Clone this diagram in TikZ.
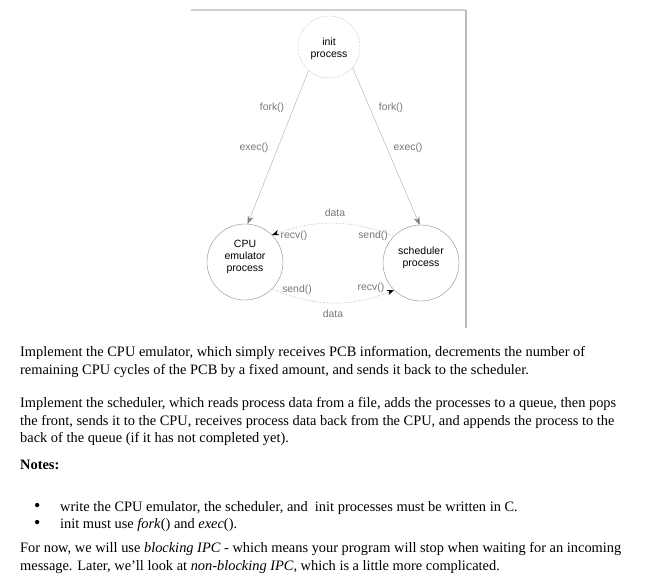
\documentclass[tikz,border=0pt]{standalone}
\usepackage{fontspec}
\setmainfont{Liberation Serif}
\newfontfamily\arialfont{Liberation Sans}
\usetikzlibrary{arrows.meta}

\definecolor{labelgray}{HTML}{777777}
\definecolor{linegray}{HTML}{AAAAAA}
\definecolor{framegray}{HTML}{D0D0D0}
\definecolor{dotgray}{HTML}{888888}

% process name, raised inside its circle
\newcommand{\proclines}[2]{\raisebox{#1}[\height][\depth]{\begin{tabular}{@{}c@{}}#2\end{tabular}}}

\begin{document}
\begin{tikzpicture}[x=1pt, y=-1pt,
            process/.style={circle, draw=gray!90, thin, minimum size=76pt, inner sep=0pt, font=\arialfont\fontsize{10.5}{12}\selectfont},
            initnode/.style={process, draw=dotgray, densely dotted, minimum size=62pt},
            calllabel/.style={text=labelgray, inner sep=1pt, font=\arialfont\fontsize{10.4}{12}\selectfont},
            spawn/.style={draw=linegray, thin, -{Stealth[length=8pt, width=6pt, fill=gray, color=gray]}},
            message/.style={draw=dotgray, densely dotted, -{Stealth[length=7pt, width=5.5pt, fill=black, color=black]}},
            para/.style={anchor=north west, inner sep=0pt, align=left, font=\fontsize{14.4}{17.2}\selectfont},
        ]
            \useasboundingbox (0,0) rectangle (652,580);

            %Frame
            \draw[framegray, line width=2pt] (191,10) -- (466,10);
            \draw[gray!55, line width=1.2pt] (466,10) -- (466,328);

            %Nodes
            \node[initnode] (init) at (329,47) {\proclines{-2pt}{init\\process}};
            \node[process] (cpu) at (245,262) {\proclines{5pt}{CPU\\emulator\\process}};
            \node[process] (sched) at (421,263) {\proclines{5pt}{scheduler\\process}};

            %Lines
            \draw[spawn] (init.229) -- (cpu.86);
            \draw[spawn] (init.319) -- (sched.92);
            \draw[message] (sched.135) to[bend right=20] (cpu.45);
            \draw[message] (cpu.-45) to[bend right=22] (sched.225);

            %Labels
            \node[calllabel] (lfork) at (272,108) {fork()};
            \node[calllabel] (lexec) at (254,148) {exec()};
            \node[calllabel] (rfork) at (391,108) {fork()};
            \node[calllabel] (rexec) at (408,148) {exec()};
            \node[calllabel] (topdata) at (335,213) {data};
            \node[calllabel] (cpurecv) at (294,236) {recv()};
            \node[calllabel] (schedsend) at (373,236) {send()};
            \node[calllabel] (cpusend) at (297,290) {send()};
            \node[calllabel] (schedrecv) at (371,288) {recv()};
            \node[calllabel] (botdata) at (333,314) {data};

            %Text
            \node[para] (cputask) at (20,346.5) {Implement the CPU emulator, which simply receives PCB information, decrements the number of\\remaining CPU cycles of the PCB by a fixed amount, and sends it back to the scheduler.};
            \node[para] (schedtask) at (20,397.5) {Implement the scheduler, which reads process data from a file, adds the processes to a queue, then pops\\the front, sends it to the CPU, receives process data back from the CPU, and appends the process to the\\back of the queue (if it has not completed yet).};
            \node[para] (notes) at (20,460) {\bfseries Notes:};
            \node[para] (notelist) at (34,501) {\makebox[26pt][l]{\fontsize{18}{17}\selectfont\textbullet}write the CPU emulator, the scheduler, and\ \ init processes must be written in C.\\\makebox[26pt][l]{\fontsize{18}{17}\selectfont\textbullet}init must use \emph{fork}() and \emph{exec}().};
            \node[para] (ipcnote) at (20,542.5) {For now, we will use \emph{blocking IPC} - which means your program will stop when waiting for an incoming\\message. Later, we'll look at \emph{non-blocking IPC}, which is a little more complicated.};
        \end{tikzpicture}
\end{document}
